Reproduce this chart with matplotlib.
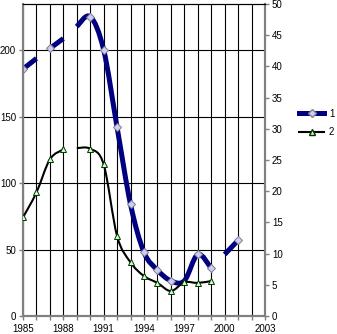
import matplotlib

matplotlib.use("Agg")
import matplotlib.pyplot as plt
import numpy as np
from matplotlib.patches import PathPatch
from matplotlib.path import Path

# series 1 (left axis), yearly 1985-2001
s1_years = np.arange(1985, 2002)
s1_values = [186, 194, 201.5, 209, 218, 225.5, 200.5, 142, 84, 48, 34.6, 26.5, 26.5, 46.4, 36, 46.4, 57]
s1_breaks = [2, 4, 15]            # a new line segment starts at these indices
s1_markers = [0, 2, 5, 6, 7, 8, 9, 10, 11, 13, 14, 16]

# series 2 (right axis), yearly 1985-1999
s2_years = np.arange(1985, 2000)
s2_values = [15.8, 19.8, 25.1, 26.7, 26.9, 26.8, 24.3, 12.8, 8.6, 6.4, 5.3, 4.0, 5.4, 5.3, 5.6]
s2_breaks = [4]
s2_markers = [0, 1, 2, 3, 5, 6, 7, 8, 9, 10, 11, 12, 13, 14]

left_ticks = [0, 50, 100, 150, 200]
right_ticks = list(range(0, 55, 5))
x_labels = [1985, 1988, 1991, 1994, 1997, 2000, 2003]

plt.rcParams.update({"font.family": ["Liberation Sans", "DejaVu Sans"], "font.size": 7})

GRAY = "#808080"


def _segments(years, values, breaks):
    edges = [0] + list(breaks) + [len(values)]
    for a, b in zip(edges[:-1], edges[1:]):
        yield np.asarray(years[a:b], float), np.asarray(values[a:b], float)


def _smooth_path(xs, ys):
    # spreadsheet-style smoothed line: cubic bezier through each point
    pts = np.column_stack([xs, ys])
    n = len(pts)
    verts = [pts[0]]
    codes = [Path.MOVETO]
    for i in range(n - 1):
        p0 = pts[max(i - 1, 0)]
        p1, p2 = pts[i], pts[i + 1]
        p3 = pts[min(i + 2, n - 1)]
        verts += [p1 + (p2 - p0) / 6, p2 - (p3 - p1) / 6, p2]
        codes += [Path.CURVE4] * 3
    return Path(verts, codes)


def _draw(ax, years, values, breaks, markers, **style):
    for xs, ys in _segments(years, values, breaks):
        ax.add_patch(PathPatch(_smooth_path(xs, ys), fill=False, edgecolor=style["color"],
                               linewidth=style["lw"], capstyle="butt", joinstyle="round",
                               zorder=3))
    mx = [years[i] for i in markers]
    my = [values[i] for i in markers]
    ax.plot(mx, my, linestyle="none", marker=style["marker"], markersize=style["ms"],
            markerfacecolor=style["mfc"], markeredgecolor=style["mec"], markeredgewidth=0.7,
            zorder=4)


fig = plt.figure(figsize=(3.37, 3.34), dpi=100)
ax = fig.add_axes([23 / 337, 18 / 334, 242 / 337, 312 / 334])
ax2 = ax.twinx()

ax.set_xlim(1985, 2003)
ax.set_ylim(0, 235)
ax2.set_ylim(0, 50)

ax.set_xticks(x_labels)
ax.set_xticks(np.arange(1985, 2004), minor=True)
ax.set_yticks(left_ticks)
ax2.set_yticks(right_ticks)

ax.grid(True, which="both", axis="x", color="black", linewidth=0.8)
ax.grid(True, which="major", axis="y", color="black", linewidth=0.8)
ax.set_axisbelow(True)

for a in (ax, ax2):
    for side in ("left", "right", "bottom"):
        a.spines[side].set_color(GRAY)
        a.spines[side].set_linewidth(1.5)
    a.spines["top"].set_color("black")
    a.spines["top"].set_linewidth(0.8)
    a.tick_params(which="both", color=GRAY, width=1.0, length=3, pad=2)

ax.tick_params(axis="x", which="both", length=3, pad=3)

_draw(ax, s1_years, s1_values, s1_breaks, s1_markers,
      color="#000080", lw=3.6, marker="D", ms=4.5, mfc="#ccccff", mec="#808080")
_draw(ax2, s2_years, s2_values, s2_breaks, s2_markers,
      color="black", lw=1.5, marker="^", ms=4.5, mfc="#ccffcc", mec="#003300")

h1 = plt.Line2D([], [], color="#000080", lw=3.6, marker="D", ms=4.5,
                markerfacecolor="#ccccff", markeredgecolor="#808080")
h2 = plt.Line2D([], [], color="black", lw=1.5, marker="^", ms=4.5,
                markerfacecolor="#ccffcc", markeredgecolor="#003300")
fig.legend([h1, h2], ["1", "2"], loc="center left", bbox_to_anchor=(0.887, 0.632),
           frameon=False, handlelength=2.6, handletextpad=0.5, labelspacing=0.9,
           borderpad=0, borderaxespad=0)

fig.savefig("out.png", dpi=100)
